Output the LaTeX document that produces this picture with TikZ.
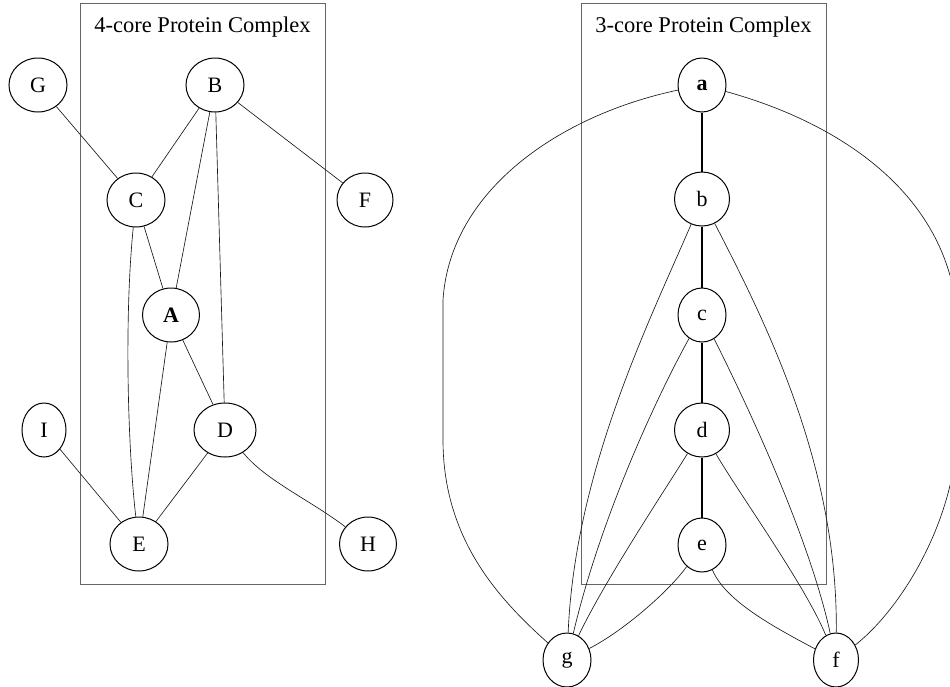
\documentclass[tikz,border=0pt]{standalone}
\usepackage{fontspec}
\setmainfont{Liberation Serif}
\usetikzlibrary{shapes.geometric}
\begin{document}
\begin{tikzpicture}[x=1pt,y=-1pt,
  vtx/.style={ellipse,draw=black,line width=1pt,inner sep=0pt,minimum height=54pt,font=\fontsize{22}{26}\selectfont},
  edge/.style={draw=black!90,line width=0.65pt},
  core/.style={draw=black,line width=1.5pt},
  cluster/.style={rectangle,draw=black!60,line width=1pt,inner sep=0pt},
  ttl/.style={font=\fontsize{22.5}{27}\selectfont,anchor=base,inner sep=0pt}]
\useasboundingbox (0,0) rectangle (950,686);
\clip (0,0) rectangle (950,686);
% clusters
\node[cluster,minimum width=245pt,minimum height=581pt] (box1) at (202.5,293.5) {};
\node[cluster,minimum width=245pt,minimum height=581pt] (box2) at (703.5,293.5) {};
\node[ttl] (t1) at (202.5,32) {4-core Protein Complex};
\node[ttl] (t2) at (703.5,32) {3-core Protein Complex};
% left graph
\node[vtx,minimum width=58pt] (G) at (38,85) {G};
\node[vtx,minimum width=58pt] (B) at (215,85) {B};
\node[vtx,minimum width=58pt] (C) at (136,200) {C};
\node[vtx,minimum width=56pt] (F) at (365,200) {F};
\node[vtx,minimum width=57pt] (A) at (171,315) {\bfseries A};
\node[vtx,minimum width=62pt] (D) at (225,430) {D};
\node[vtx,minimum width=44pt] (I) at (44,430) {I};
\node[vtx,minimum width=58pt] (E) at (139,544) {E};
\node[vtx,minimum width=57pt] (H) at (368,544) {H};
\draw[edge] (G) -- (C);
\draw[edge] (B) -- (C);
\draw[edge] (B) -- (A);
\draw[edge] (B) -- (D);
\draw[edge] (B) -- (F);
\draw[edge] (C) -- (A);
\draw[edge] (C) .. controls (124,320) and (128,450) .. (E);
\draw[edge] (A) -- (E);
\draw[edge] (A) -- (D);
\draw[edge] (D) -- (E);
\draw[edge] (D) .. controls (265,480) and (310,500) .. (H);
\draw[edge] (I) -- (E);
% right graph
\node[vtx,minimum width=48pt] (a) at (702,85) {\bfseries a};
\node[vtx,minimum width=55pt] (b) at (702,199) {b};
\node[vtx,minimum width=48pt] (c) at (702,315) {c};
\node[vtx,minimum width=55pt] (d) at (702,430) {d};
\node[vtx,minimum width=48pt] (e) at (702,545) {e};
\node[vtx,minimum width=48pt] (g) at (567,660) {g};
\node[vtx,minimum width=45pt] (f) at (836,660) {f};
\draw[core] (a) -- (b);
\draw[core] (b) -- (c);
\draw[core] (c) -- (d);
\draw[core] (d) -- (e);
\draw[edge] (a) .. controls (560,115) and (450,190) .. (443,300) -- (443,440) .. controls (443,540) and (500,600) .. (g);
\draw[edge] (a) .. controls (830,120) and (955,190) .. (958,330) -- (958,420) .. controls (958,520) and (900,610) .. (f);
\draw[edge] (b) .. controls (650,320) and (575,470) .. (g);
\draw[edge] (b) .. controls (770,330) and (838,470) .. (f);
\draw[edge] (c) .. controls (655,400) and (600,520) .. (g);
\draw[edge] (c) .. controls (750,410) and (810,540) .. (f);
\draw[edge] (d) .. controls (665,490) and (605,580) .. (g);
\draw[edge] (d) .. controls (740,495) and (805,585) .. (f);
\draw[edge] (e) .. controls (670,590) and (625,630) .. (g);
\draw[edge] (e) .. controls (725,600) and (770,625) .. (f);
\end{tikzpicture}
\end{document}
